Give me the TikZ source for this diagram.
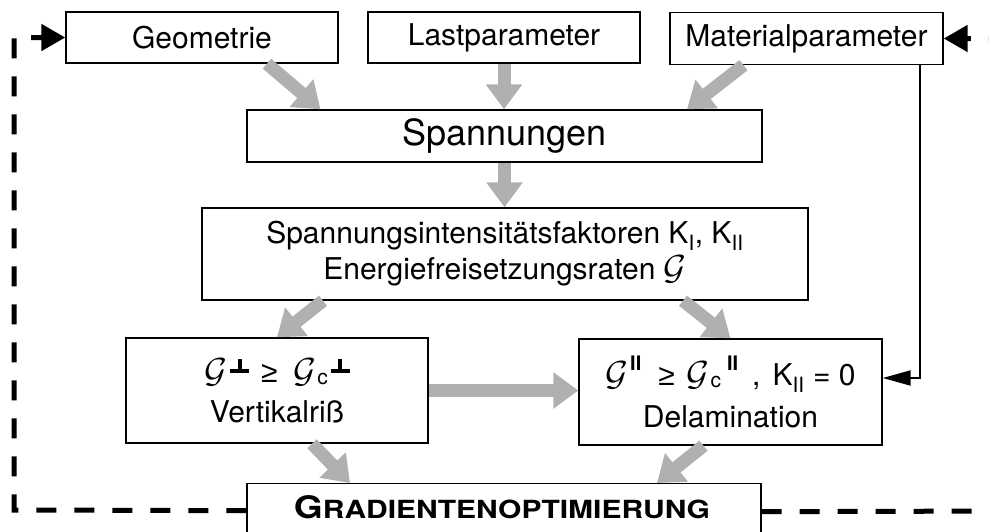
\documentclass[tikz,border=0pt]{standalone}
\usepackage{graphicx}
\usepackage{fontspec}
\setmainfont{TeX Gyre Heros}
\newfontfamily\lib{Liberation Sans}
\usetikzlibrary{arrows.meta,calc}
\newcommand{\GGs}{{\fontsize{24.88}{25}\selectfont\scalebox{1.4}{$\mathcal{G}$}}}
\newcommand{\perpb}{\raisebox{9pt}{\rlap{\kern7.5pt\rule{4pt}{14pt}}\rule{19pt}{3.8pt}}}
\newcommand{\IIbold}{\raisebox{15pt}{\fontsize{20}{20}\selectfont\bfseries II}}
\newcommand{\csub}{\raisebox{-2pt}{\fontsize{21}{21}\selectfont c}}
\newcommand{\gesym}{{\lib ≥}}
\tikzset{
  box/.style={draw, line width=1.4pt, inner sep=0pt, align=center, font=\fontsize{30}{36}\selectfont},
  fat/.style={draw=gray!62, line width=13pt, -{Triangle[length=25pt,width=35pt]}},
  thinarr/.style={draw=black, line width=2pt, -{Triangle[length=28pt,width=15pt]}},
  fb/.style={draw=black, line width=5pt, dash pattern=on 20pt off 18pt, -{Triangle[length=24pt,width=26pt]}},
}
\begin{document}
\begin{tikzpicture}[x=1pt,y=-1pt]
\useasboundingbox (0,0) rectangle (989,531);
\clip (0,0) rectangle (989,531);
\fill[white] (0,0) rectangle (989,531);

\node[box, minimum width=272pt, minimum height=51pt] (geo) at (202,37.5) {Geometrie};
\node[box, minimum width=272pt, minimum height=51pt] (last) at (504,37.5) {Lastparameter};
\node[box, minimum width=273pt, minimum height=52pt] (mat) at (806.5,38.5) {Materialparameter};
\node[box, minimum width=515pt, minimum height=52pt, font=\fontsize{36}{40}\selectfont] (span) at (504.5,136) {Spannungen};
\node[box, minimum width=606pt, minimum height=92pt] (sif) at (505,254)
  {Spannungsintensitätsfaktoren K\textsubscript{I}, K\textsubscript{II}\\Energiefreisetzungsraten \GGs};
\node[box, minimum width=302pt, minimum height=105pt, font=\fontsize{30}{40}\selectfont] (vert) at (277,390.5)
  {\GGs\kern3pt\perpb\hspace{12pt}\gesym\hspace{16pt}\GGs\kern1pt\csub\kern3pt\perpb\\Vertikalriß};
\node[box, minimum width=303pt, minimum height=106pt, font=\fontsize{30}{42}\selectfont] (dela) at (730.5,392)
  {\GGs\kern2pt\IIbold\hspace{17pt}\gesym\hspace{12pt}\GGs\kern1pt\csub\kern6pt\IIbold\hspace{14pt},\hspace{12pt}K\textsubscript{II} = 0\\Delamination};
\node[draw, line width=1.4pt, minimum width=514pt, minimum height=70pt, anchor=north, inner sep=0pt] (grad) at (504,483) {};
\node[anchor=base, inner sep=0pt] (gradtext) at (502,518)
  {\scalebox{1.2}[1]{\bfseries\fontsize{31}{31}\selectfont G\fontsize{25}{25}\selectfont RADIENTENOPTIMIERUNG}};

% grey flow arrows
\draw[fat] ([xshift=65pt]geo.south) -- ([xshift=-184pt]span.north);
\draw[fat] (last.south) -- (last.south |- span.north);
\draw[fat] ([xshift=-63pt]mat.south) -- ([xshift=182.5pt]span.north);
\draw[fat] (span.south) -- (span.south |- sif.north);
\draw[fat] ([xshift=-182pt]sif.south) -- (vert.north);
\draw[fat] ([xshift=178pt]sif.south) -- (dela.north);
\draw[fat] (vert.east) -- (vert.east -| dela.west);
\draw[fat] ([xshift=35pt]vert.south) -- ([xshift=-154pt]grad.north);
\draw[fat] ([xshift=-27pt]dela.south) -- ([xshift=153pt]grad.north);

% black feedback from material parameters
\draw[thinarr] ([xshift=113.5pt]mat.south) |- ([yshift=14pt]dela.east);

% dashed loops
\coordinate (lc1) at (14,510);
\coordinate (lc2) at (14,37.5);
\coordinate (rc1) at (1010,511);
\coordinate (rc2) at (1010,38.5);
\draw[fb] ([yshift=8pt]grad.west) -- (lc1) -- (lc2) -- (geo.west);
\draw[fb] ([yshift=7pt]grad.east) -- (rc1) -- (rc2) -- (mat.east);
\end{tikzpicture}
\end{document}
